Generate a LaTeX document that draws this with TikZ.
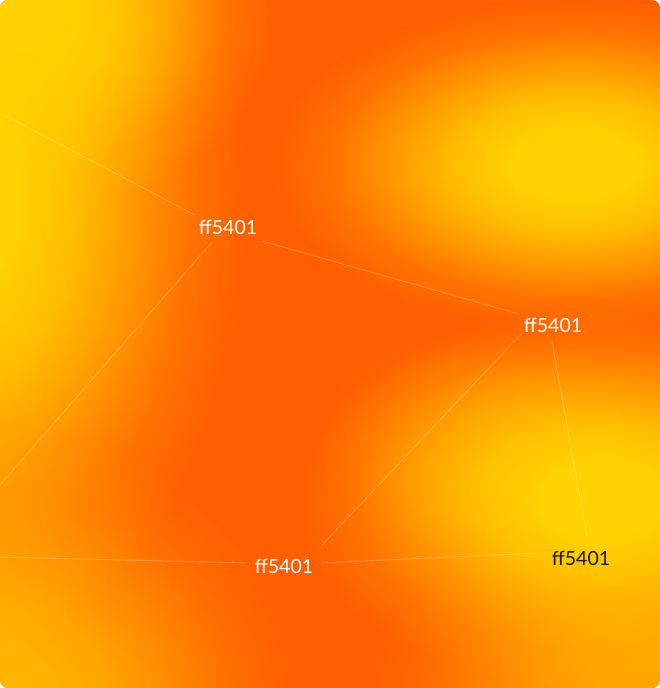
\documentclass[tikz,border=0pt]{standalone}
\usepackage{fontspec}
\setmainfont{Lato}
\usetikzlibrary{fadings,calc}
\definecolor{bgorange}{HTML}{FF5E01}
\definecolor{bgyellow}{HTML}{FFD200}
\definecolor{darktext}{HTML}{1C1C1C}
\pgfdeclareradialshading{blobsh}{\pgfpointorigin}{color(0bp)=(white); color(4bp)=(white); color(8bp)=(white!82!black); color(12bp)=(white!50!black); color(16bp)=(white!18!black); color(20bp)=(black); color(50bp)=(black)}
\pgfdeclarefading{blob}{\pgfuseshading{blobsh}}
\tikzset{
  yblob/.style={fill=bgyellow, path fading=blob, fill opacity=#1},
  yblob/.default=1,
  label/.style={text=white, font=\fontsize{19.5}{20}\selectfont, inner sep=0pt},
  link/.style={draw=white, draw opacity=0.24, line width=0.9pt},
}
\begin{document}
\begin{tikzpicture}[x=1pt,y=-1pt]
\useasboundingbox (0,0) rectangle (660,688);
\fill[white] (0,0) rectangle (660,688);
\begin{scope}
\clip[rounded corners=8pt] (0,0) rectangle (660,688);
\fill[bgorange] (0,0) rectangle (660,688);
% yellow areas
\fill[yblob] (-40,200) ellipse (360 and 580);
\fill[yblob] (10,10) ellipse (340 and 260);
\fill[yblob] (575,165) ellipse (380 and 210);
\fill[yblob] (600,500) ellipse (380 and 240);
\fill[yblob=0.6] (660,700) ellipse (375 and 230);
\fill[yblob=0.75] (-20,710) ellipse (400 and 354);
\fill[yblob=0.25] (480,440) ellipse (208 and 146);
% links
\coordinate (c1) at (6,116);
\coordinate (c2) at (0,485);
\coordinate (c3) at (0,557);
\node[label] (n1) at (228,227) {ff5401};
\node[label] (n2) at (553,325) {ff5401};
\node[label] (n3) at (284,566) {ff5401};
\node[label, text=darktext] (n4) at (581,558) {ff5401};
\draw[link] (c1) -- ($(n1)+(-33,-12)$);
\draw[link] ($(n1)+(34,14)$) -- ($(n2)+(-34,-11)$);
\draw[link] ($(n1)+(-16,15)$) -- (c2);
\draw[link] ($(n2)+(-31,8)$) -- ($(n3)+(38,-21)$);
\draw[link] ($(n2)+(-1,17)$) -- ($(n4)+(6,-21)$);
\draw[link] (c3) -- ($(n3)+(-37,-3)$);
\draw[link] ($(n3)+(36,-3)$) -- ($(n4)+(-43,-5)$);
\end{scope}
\end{tikzpicture}
\end{document}
